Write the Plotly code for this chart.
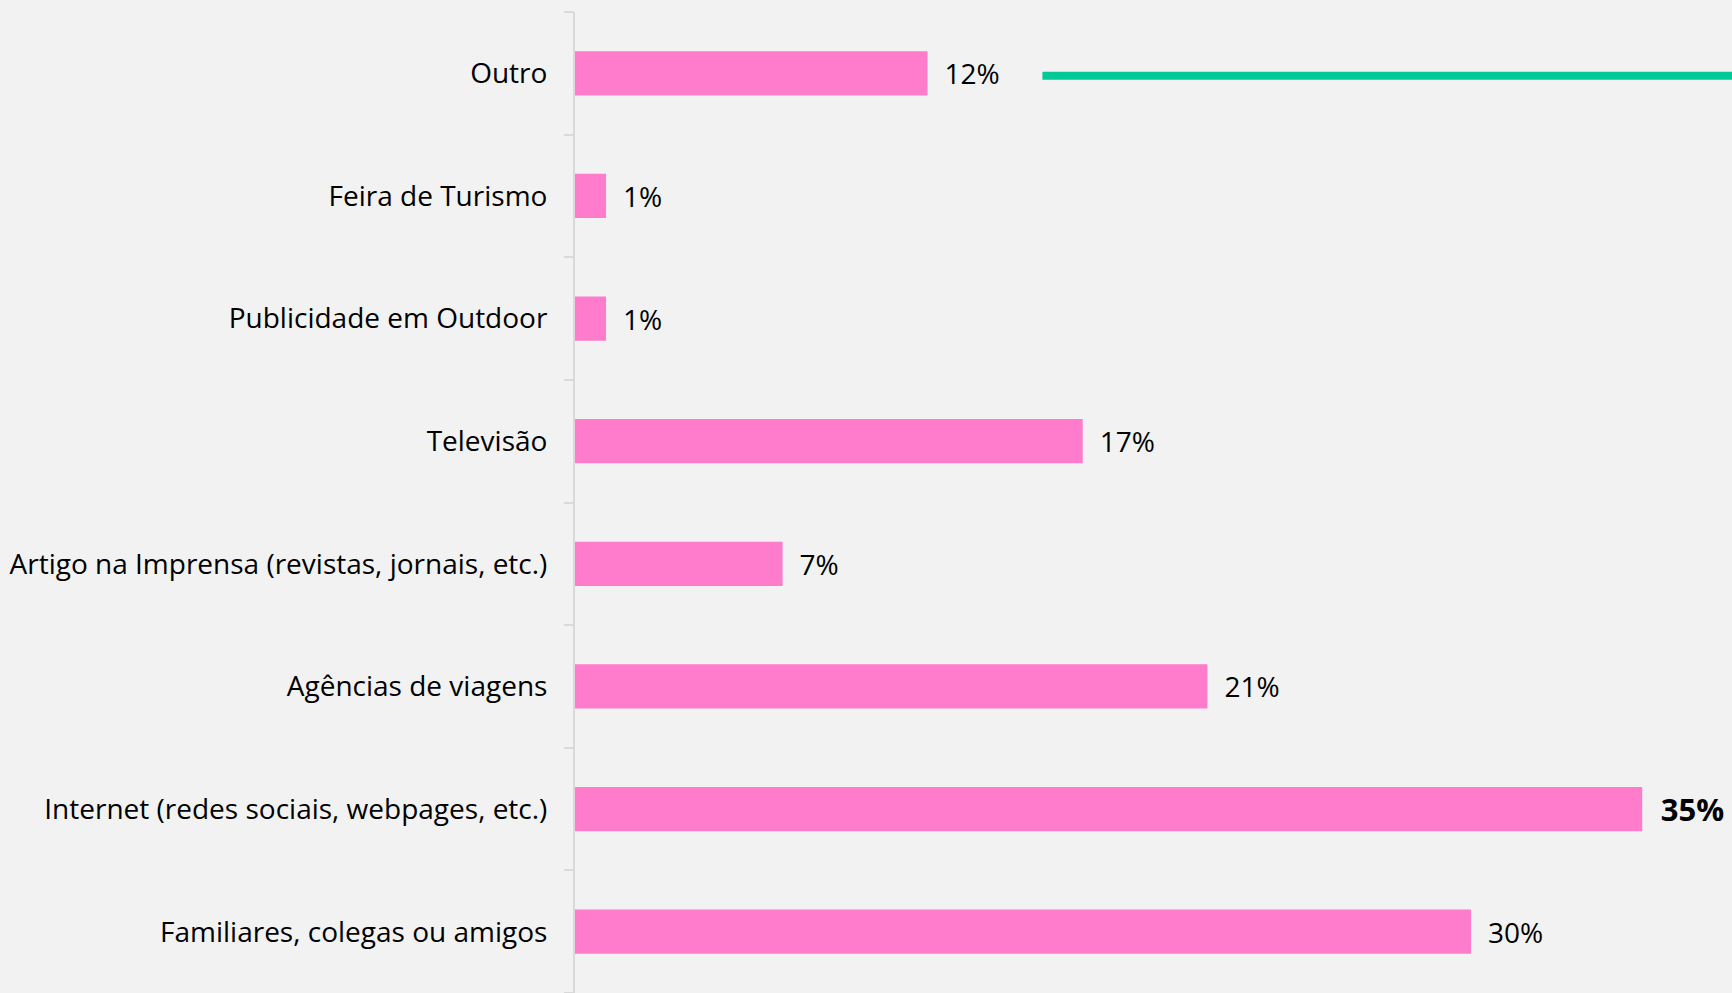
import plotly.graph_objects as go

categories = [
    "Familiares, colegas ou amigos",
    "Internet (redes sociais, webpages, etc.)",
    "Agências de viagens",
    "Artigo na Imprensa (revistas, jornais, etc.)",
    "Televisão",
    "Publicidade em Outdoor",
    "Feira de Turismo",
    "Outro",
]
values = [29.74, 35.42, 20.99, 6.89, 16.85, 1.03, 1.03, 11.7]
labels = ["30%", "35%", "21%", "7%", "17%", "1%", "1%", "12%"]
highlight = "35%"

FONT = "Open Sans"
text_html = ["\u2002" + (f"<b>{l}</b>" if l == highlight else l) for l in labels]
text_sizes = [31 if l == highlight else 28 for l in labels]

fig = go.Figure()
fig.add_trace(go.Bar(
    y=categories, x=values, orientation="h",
    marker=dict(color="#FF7BCB", line=dict(width=0)),
    width=0.36,
    text=text_html, textposition="outside",
    textfont=dict(size=text_sizes, color="#000000", family=FONT),
    cliponaxis=False,
))

fig.add_shape(type="line", xref="paper", yref="y",
              x0=0.404, x1=1.0, y0=6.98, y1=6.98,
              line=dict(color="#00C997", width=8))

fig.update_layout(
    width=1732, height=993,
    paper_bgcolor="#F2F2F2", plot_bgcolor="#F2F2F2",
    margin=dict(l=575, r=0, t=12, b=0),
    showlegend=False,
    font=dict(family=FONT, size=28, color="#000000"),
    bargap=0.64,
)
fig.update_xaxes(range=[0, 38.4], visible=False, showgrid=False, zeroline=False)
fig.update_yaxes(
    categoryorder="array", categoryarray=categories,
    showline=True, linecolor="#D9D9D9", linewidth=2,
    ticks="outside", tickson="boundaries", ticklen=9, tickcolor="#D9D9D9", tickwidth=2,
    ticklabelstandoff=20,
    showgrid=False, zeroline=False,
    tickfont=dict(size=28, family=FONT, color="#000000"),
)

fig.write_html("out.html", config={"displayModeBar": False},
               post_script="document.body.style.margin='0';document.body.style.background='#F2F2F2';")
